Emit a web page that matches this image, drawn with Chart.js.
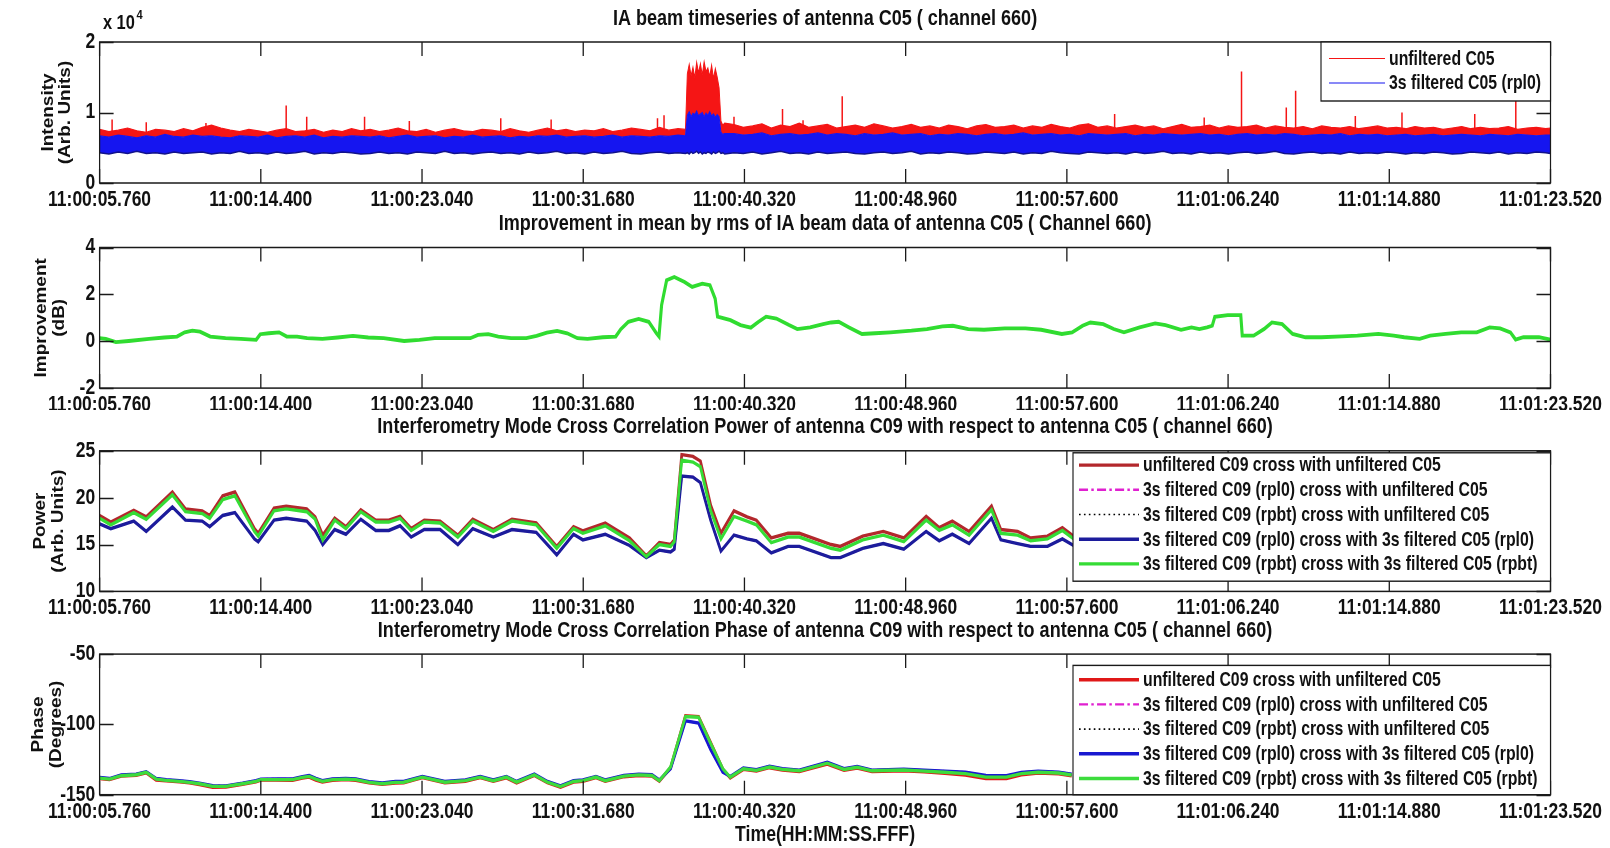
<!DOCTYPE html>
<html>
<head>
<meta charset="utf-8">
<script src="https://cdn.jsdelivr.net/npm/chart.js@4/dist/chart.umd.min.js"></script>
<style>
  html, body { margin: 0; padding: 0; background: #fff; overflow: hidden; }
  #wrap { position: relative; width: 1610px; height: 848px; }
  .panel { position: absolute; left: 0; }
  canvas { display: block; }
</style>
</head>
<body>
<div id="wrap">
  <div class="panel" style="top:0"><canvas id="beamChart" width="1963" height="206"></canvas></div>
  <div class="panel" style="top:206px"><canvas id="improveChart" width="1963" height="204"></canvas></div>
  <div class="panel" style="top:410px"><canvas id="powerChart" width="1963" height="204"></canvas></div>
  <div class="panel" style="top:614px"><canvas id="phaseChart" width="1963" height="234"></canvas></div>
</div>
<script>
// time axis (seconds after 11:00:05.760)
const timeTicks = [0, 8.64, 17.28, 25.92, 34.56, 43.2, 51.84, 60.48, 69.12, 77.76];
const timeTickLabels = ['11:00:05.760', '11:00:14.400', '11:00:23.040', '11:00:31.680', '11:00:40.320',
  '11:00:48.960', '11:00:57.600', '11:01:06.240', '11:01:14.880', '11:01:23.520'];

// panel 1: IA beam timeseries, envelope of the dense samples
const beamTimes = [
  0, 0.5, 1, 1.5, 2, 2.5, 3, 3.5, 4, 4.5,
  5, 5.5, 6, 6.5, 7, 7.5, 8, 8.5, 9, 9.5,
  10, 10.5, 11, 11.5, 12, 12.5, 13, 13.5, 14, 14.5,
  15, 15.5, 16, 16.5, 17, 17.5, 18, 18.5, 19, 19.5,
  20, 20.5, 21, 21.5, 22, 22.5, 23, 23.5, 24, 24.5,
  25, 25.5, 26, 26.5, 27, 27.5, 28, 28.5, 29, 29.5,
  30, 30.5, 31,
  31.4,
  31.5, 31.6, 31.7, 31.8, 31.9, 32.0, 32.1, 32.2, 32.3, 32.4,
  32.5, 32.6, 32.7, 32.8, 32.9, 33.0, 33.1, 33.2, 33.3, 33.4, 33.5,
  34, 34.5, 35, 35.5, 36, 36.5, 37, 37.5, 38, 38.5,
  39, 39.5, 40, 40.5, 41, 41.5, 42, 42.5, 43, 43.5,
  44, 44.5, 45, 45.5, 46, 46.5, 47, 47.5, 48, 48.5,
  49, 49.5, 50, 50.5, 51, 51.5, 52, 52.5, 53, 53.5,
  54, 54.5, 55, 55.5, 56, 56.5, 57, 57.5, 58, 58.5,
  59, 59.5, 60, 60.5, 61, 61.5, 62, 62.5, 63, 63.5,
  64, 64.5, 65, 65.5, 66, 66.5, 67, 67.5, 68, 68.5,
  69, 69.5, 70, 70.5, 71, 71.5, 72, 72.5, 73, 73.5,
  74, 74.5, 75, 75.5, 76, 76.5, 77, 77.5,
  77.76
];
const beamRedHigh = [
  7600, 7300, 7500, 7800, 7400, 7200, 7600, 7500, 7300, 7700,
  7400, 7900, 8200, 7800, 7500, 7300, 7600, 7400, 7200, 7500,
  7700, 7300, 7400, 7600, 7200, 7500, 7300, 7700, 7400, 7600,
  7300, 7500, 7800, 7400, 7300, 7600, 7200, 7500, 7700, 7400,
  7300, 7600, 7500, 7300, 7700, 7400, 7200, 7500, 7800, 7400,
  7600, 7300, 7500, 7400, 7700, 7300, 7500, 7800, 7600, 7400,
  7900, 7500, 7700,
  7600,
  15500, 16800, 15200, 16400, 14900, 17100, 15600, 16900, 15300, 17200,
  15800, 16300, 15100, 16700, 14800, 16200, 15000, 13500, 8800, 8200, 8500,
  8300, 7900, 8100, 8400, 7800, 8200, 8000, 8500, 7900, 8100,
  8300, 7800, 8000, 8200, 7900, 8400, 8100, 7800, 8000, 8300,
  7900, 8100, 7800, 8200, 8000, 7700, 8100, 8300, 7900, 8000,
  8200, 7800, 8100, 7900, 8300, 8000, 7800, 8200, 8400, 7900,
  8100, 7800, 8000, 8200, 7900, 8100, 7700, 8000, 8300, 7900,
  8000, 8200, 7800, 8100, 7900, 8000, 8200, 7800, 8100, 7900,
  7800, 8000, 7700, 8100, 7900, 7800, 8000, 7700, 7900, 8100,
  7800, 7900, 7700, 8000, 7800, 7900, 7600, 7800, 8000, 7700,
  7900, 7700, 7800, 8000, 7600, 7800, 7900, 7700,
  7800
];
const beamBlueHigh = [
  6700, 6500, 6800, 6600, 6400, 6700, 6500, 6900, 6600, 6500,
  6800, 6600, 6700, 6500, 6400, 6700, 6600, 6500, 6800, 6400,
  6600, 6700, 6500, 6800, 6400, 6600, 6500, 6700, 6600, 6500,
  6700, 6400, 6600, 6800, 6500, 6600, 6700, 6400, 6600, 6500,
  6800, 6500, 6600, 6700, 6400, 6600, 6500, 6700, 6600, 6800,
  6500, 6600, 6700, 6500, 6600, 6800, 6500, 6700, 6600, 6500,
  6700, 6600, 6800,
  6700,
  9600, 10100, 9400, 9900, 9700, 10200, 9500, 9800, 10000, 9400,
  9900, 9600, 10100, 9500, 9800, 9300, 9700, 9400, 7200, 6900, 7000,
  7000, 6800, 6900, 7100, 6700, 6900, 7000, 6800, 6900, 7100,
  6800, 7000, 6900, 6700, 7000, 6800, 6900, 7100, 6800, 6900,
  7000, 6700, 6900, 6800, 7000, 6900, 6700, 6900, 7000, 6800,
  6900, 7100, 6800, 6900, 7000, 6800, 6900, 6700, 7000, 6900,
  6800, 6900, 7000, 6700, 6900, 6800, 7000, 6900, 6800, 6900,
  7000, 6800, 6900, 6700, 6900, 7000, 6800, 6900, 6800, 7000,
  6900, 6700, 6800, 6900, 6800, 7000, 6700, 6900, 6800, 6900,
  6700, 6800, 6900, 6700, 6800, 6900, 6700, 6800, 6900, 6800,
  6700, 6900, 6800, 6700, 6900, 6800, 6700, 6800,
  6800
];
const beamBlueLow = [
  4300, 4100, 4400, 4200, 4500, 4200, 4300, 4100, 4400, 4200,
  4300, 4400, 4100, 4300, 4200, 4500, 4200, 4300, 4100, 4400,
  4200, 4300, 4500, 4100, 4300, 4200, 4400, 4300, 4100, 4200,
  4400, 4200, 4300, 4100, 4400, 4300, 4200, 4500, 4200, 4300,
  4100, 4300, 4400, 4200, 4300, 4100, 4400, 4200, 4300, 4500,
  4200, 4300, 4100, 4400, 4200, 4300, 4500, 4200, 4100, 4300,
  4400, 4200, 4300,
  4200,
  4300, 4100, 4400, 4200, 4300, 4500, 4200, 4400, 4100, 4300,
  4200, 4400, 4300, 4100, 4400, 4200, 4300, 4500, 4200, 4300, 4100,
  4300, 4200, 4400, 4100, 4300, 4500, 4200, 4300, 4100, 4400,
  4200, 4300, 4400, 4200, 4100, 4300, 4400, 4200, 4300, 4500,
  4100, 4300, 4200, 4400, 4300, 4100, 4200, 4400, 4300, 4200,
  4400, 4100, 4300, 4200, 4500, 4300, 4200, 4100, 4400, 4300,
  4200, 4300, 4100, 4400, 4200, 4300, 4500, 4200, 4300, 4100,
  4400, 4200, 4300, 4100, 4300, 4400, 4200, 4300, 4500, 4200,
  4100, 4300, 4400, 4200, 4300, 4100, 4400, 4200, 4300, 4200,
  4400, 4300, 4100, 4300, 4200, 4400, 4300, 4100, 4200, 4400,
  4300, 4200, 4400, 4100, 4300, 4200, 4400, 4300,
  4200
];
// isolated RFI spikes in the unfiltered beam
const spikeBase = 7000;
const spikeTimes = [0.67, 2.5, 5.7, 10.0, 11.1, 14.2, 16.6, 21.5, 24.2, 29.9, 30.25, 34.0,
  36.6, 37.7, 39.8, 54.4, 59.2, 61.2, 63.6, 64.1, 67.3, 69.8, 73.7, 75.9];
const spikePeaks = [9000, 8600, 8500, 11000, 9400, 9400, 8800, 9200, 9000, 9200, 9600, 9400,
  10500, 8900, 12300, 9800, 9300, 15800, 10700, 13100, 9500, 10000, 9800, 11900];
const beamYTicks = [0, 10000, 20000];
const beamYLabels = ['0', '1', '2'];

// panel 2: improvement (dB)
const impTimes = [
  0, 0.33, 0.87, 1.56, 2.65, 3.47, 4.15, 4.56, 4.97, 5.38,
  5.93, 6.75, 7.57, 8.39, 8.61, 9.07, 9.62, 10.03, 10.58, 11.12,
  11.94, 12.76, 13.58, 14.4, 15.22, 16.32, 17.14, 17.96, 19.05, 19.87,
  20.28, 20.83, 21.37, 22.05, 22.87, 23.42, 23.97, 24.52, 25.06, 25.61,
  26.15, 26.97, 27.66, 27.93, 28.34, 28.89, 29.43, 29.84, 29.98, 30.12,
  30.39, 30.8, 31.35, 31.76, 32.3, 32.71, 32.99, 33.12, 33.81, 34.35,
  34.9, 35.31, 35.72, 36.27, 36.95, 37.39, 38.08, 38.78, 39.2, 39.61,
  40.17, 40.86, 41.56, 42.39, 43.51, 44.34, 45.17, 45.73, 46.56, 47.4,
  48.51, 49.62, 50.46, 51.57, 52.12, 52.68, 53.1, 53.79, 54.35, 54.9,
  55.74, 56.57, 57.13, 57.96, 58.52, 58.94, 59.35, 59.63, 59.77, 60.46,
  61.16, 61.24, 61.85, 62.41, 62.83, 63.38, 63.94, 64.63, 65.47, 66.58,
  67.41, 68.53, 69.36, 69.92, 70.75, 71.31, 72.14, 72.97, 73.81, 74.5,
  75.06, 75.61, 75.89, 76.31, 77.14, 77.76
];
const impValues = [
  0.13, 0.10, -0.04, 0.01, 0.10, 0.16, 0.20, 0.38, 0.45, 0.41,
  0.20, 0.13, 0.10, 0.06, 0.30, 0.34, 0.38, 0.20, 0.20, 0.13,
  0.10, 0.16, 0.23, 0.16, 0.13, 0.01, 0.06, 0.13, 0.13, 0.13,
  0.27, 0.30, 0.20, 0.13, 0.13, 0.23, 0.37, 0.44, 0.34, 0.13,
  0.10, 0.17, 0.20, 0.51, 0.83, 0.95, 0.83, 0.34, 0.20, 1.54,
  2.60, 2.74, 2.53, 2.32, 2.46, 2.39, 1.82, 1.05, 0.90, 0.69,
  0.58, 0.83, 1.05, 0.97, 0.69, 0.52, 0.59, 0.73, 0.80, 0.83,
  0.59, 0.31, 0.34, 0.38, 0.45, 0.52, 0.63, 0.66, 0.52, 0.49,
  0.55, 0.55, 0.49, 0.31, 0.38, 0.66, 0.80, 0.73, 0.52, 0.38,
  0.59, 0.76, 0.69, 0.49, 0.59, 0.52, 0.59, 0.66, 1.04, 1.11,
  1.11, 0.24, 0.24, 0.52, 0.80, 0.73, 0.31, 0.17, 0.17, 0.21,
  0.24, 0.31, 0.24, 0.17, 0.10, 0.24, 0.31, 0.38, 0.38, 0.59,
  0.55, 0.38, 0.07, 0.17, 0.17, 0.07
];
const impYTicks = [-2, 0, 2, 4];

// panel 3: cross correlation power
const powerTimes = [
  0, 0.6, 1.83, 2.5, 3.9, 4.6, 5.5, 5.9, 6.6, 7.25,
  8.3, 8.5, 9.35, 10.0, 11.1, 11.55, 11.96, 12.6, 13.2, 14.0,
  14.8, 15.5, 16.1, 16.7, 17.4, 18.25, 19.2, 20.0, 21.1, 22.1,
  23.4, 24.5, 25.4, 25.9, 27.1, 28.4, 29.3, 30.0, 30.6, 30.8,
  31.2, 31.8, 32.2, 32.75, 33.3, 34.0, 34.7, 35.2, 36.0, 36.9,
  37.5, 39.2, 39.7, 40.9, 42.0, 43.1, 44.3, 45.0, 45.7, 46.6,
  47.8, 48.3, 49.2, 49.9, 50.8, 51.6, 52.2
];
const powerRed = [
  18.1, 17.4, 18.65, 17.95, 20.6, 18.8, 18.6, 18.1, 20.2, 20.6,
  16.7, 16.2, 18.9, 19.1, 18.8, 17.95, 16.0, 17.8, 16.9, 18.7,
  17.6, 17.6, 18.0, 16.7, 17.6, 17.5, 16.0, 17.7, 16.6, 17.7,
  17.3, 14.8, 16.9, 16.45, 17.3, 15.7, 13.8, 15.2, 15.0, 15.5,
  24.6, 24.4, 23.9, 19.2, 16.2, 18.6, 17.95, 17.6, 15.7, 16.2,
  16.2, 15.0, 14.8, 15.9, 16.4, 15.7, 18.0, 16.8, 17.5, 16.4,
  19.1, 16.6, 16.4, 15.7, 15.9, 16.8, 15.9
];
const powerGreen = [
  17.8, 17.1, 18.4, 17.7, 20.3, 18.5, 18.3, 17.8, 19.8, 20.2,
  16.4, 15.9, 18.6, 18.8, 18.5, 17.7, 15.5, 17.6, 16.7, 18.5,
  17.4, 17.4, 17.8, 16.5, 17.4, 17.3, 15.8, 17.5, 16.4, 17.5,
  17.1, 14.6, 16.7, 16.2, 17.0, 15.4, 13.7, 15.0, 14.8, 15.3,
  24.0, 23.8, 23.3, 18.6, 15.6, 18.0, 17.5, 17.1, 15.2, 15.8,
  15.8, 14.6, 14.4, 15.5, 16.0, 15.3, 17.6, 16.5, 17.1, 16.0,
  18.7, 16.2, 16.0, 15.4, 15.6, 16.5, 15.6
];
const powerBlue = [
  17.2, 16.7, 17.5, 16.4, 19.0, 17.6, 17.5, 16.9, 18.1, 18.4,
  15.6, 15.3, 17.6, 17.8, 17.5, 16.5, 15.0, 16.6, 16.1, 17.7,
  16.5, 16.5, 17.0, 15.8, 16.6, 16.6, 15.0, 16.7, 15.8, 16.6,
  16.3, 13.9, 16.1, 15.5, 16.1, 14.9, 13.6, 14.4, 14.2, 14.5,
  22.3, 22.2, 21.6, 17.6, 14.3, 16.0, 15.6, 15.4, 14.1, 14.8,
  14.8, 13.6, 13.6, 14.6, 15.1, 14.5, 16.4, 15.4, 16.1, 15.1,
  17.8, 15.5, 15.1, 14.8, 14.8, 15.6, 14.9
];
const powerYTicks = [10, 15, 20, 25];

// panel 4: cross correlation phase (degrees)
const phaseTimes = [
  0, 0.53, 1.16, 1.96, 2.5, 3.03, 3.57, 4.28, 4.81, 5.35,
  6.06, 6.77, 7.66, 8.38, 8.64, 9.45, 10.34, 10.87, 11.23, 11.59,
  11.94, 12.48, 13.19, 13.73, 14.44, 15.15, 15.86, 16.3, 17.3, 18.5,
  19.6, 20.4, 21.1, 21.8, 22.35, 23.3, 24.0, 24.7, 25.4, 25.9,
  26.6, 27.1, 28.1, 28.9, 29.6, 30.0, 30.6, 31.4, 32.1, 32.75,
  33.4, 33.8, 34.5, 35.2, 35.9, 36.6, 37.5, 39.0, 39.9, 40.6,
  41.4, 43.1, 44.2, 45.3, 46.4, 47.5, 48.6, 49.4, 50.3, 51.4,
  52.1
];
const phaseRed = [
  -138.6, -139.2, -136.8, -136.2, -134.4, -139.6, -140.2, -140.9, -141.6, -142.8,
  -144.8, -144.6, -142.6, -140.9, -139.6, -139.6, -139.7, -138.1, -137.5, -139.6,
  -141.0, -139.7, -139.2, -139.8, -141.6, -142.6, -141.7, -141.5, -137.9, -141.6,
  -140.5, -137.9, -140.5, -138.0, -141.6, -136.3, -141.5, -144.7, -141.0, -140.4,
  -137.9, -140.4, -137.2, -136.3, -136.7, -140.4, -130.8, -93.8, -94.4, -113.0,
  -131.8, -138.0, -132.0, -133.2, -130.8, -132.5, -133.6, -128.2, -132.6, -131.0,
  -133.6, -133.0, -133.8, -134.8, -136.0, -138.6, -138.5, -135.8, -134.6, -135.2,
  -136.6
];
const phaseBlue = [
  -137.8, -138.5, -136.0, -135.4, -133.7, -138.4, -139.4, -140.0, -140.8, -141.8,
  -143.6, -143.7, -141.8, -140.0, -138.9, -138.8, -138.8, -137.2, -136.4, -138.4,
  -140.0, -138.8, -138.4, -138.8, -140.7, -141.7, -140.6, -140.6, -137.0, -140.6,
  -139.5, -137.0, -139.5, -137.0, -140.6, -135.4, -140.6, -143.7, -140.1, -139.5,
  -137.0, -139.5, -136.3, -135.4, -135.8, -139.5, -131.5, -97.5, -99.0, -118.0,
  -134.0, -137.0, -131.0, -132.2, -129.8, -131.5, -132.5, -127.0, -131.5, -130.0,
  -132.5, -131.8, -132.6, -133.2, -134.0, -136.3, -136.4, -134.2, -133.2, -134.0,
  -135.4
];
const phaseGreen = [
  -138.2, -138.9, -136.5, -135.8, -134.1, -138.9, -139.8, -140.5, -141.2, -142.2,
  -144.1, -144.1, -142.2, -140.5, -139.3, -139.3, -139.3, -137.7, -137.0, -138.9,
  -140.5, -139.3, -138.9, -139.3, -141.2, -142.2, -141.2, -141.1, -137.5, -141.1,
  -140.0, -137.5, -140.0, -137.5, -141.1, -135.9, -141.1, -144.2, -140.6, -140.0,
  -137.5, -140.0, -136.8, -135.9, -136.3, -140.0, -130.3, -94.4, -94.9, -113.5,
  -131.5, -137.5, -131.5, -132.7, -130.3, -132.0, -133.0, -127.6, -132.0, -130.5,
  -133.0, -132.4, -133.2, -134.0, -135.0, -137.5, -137.5, -135.0, -134.0, -134.6,
  -136.0
];
const phaseYTicks = [-150, -100, -50];

const crossLabels = [
  'unfiltered C09 cross with unfiltered C05',
  '3s filtered C09 (rpl0) cross with unfiltered C05',
  '3s filtered C09 (rpbt) cross with unfiltered C05',
  '3s filtered C09 (rpl0) cross with 3s filtered C05 (rpl0)',
  '3s filtered C09 (rpbt) cross with 3s filtered C05 (rpbt)'
];

// ---------------------------------------------------------------
// the figure is laid out 1963 wide and drawn squeezed into 1610 px,
// which gives the narrow lettering of the original export
const LOGICAL_W = 1963;
const SQ = 1610 / LOGICAL_W;
const ux = v => v / SQ;            // screen x -> chart x
const FONT = "'Liberation Sans', Arial, sans-serif";
const INK = '#111';
const tickFont = {family: FONT, size: 21.3, weight: 'bold', lineHeight: 1.2};
const yTitleFont = {family: FONT, size: 19, weight: 'bold', lineHeight: 1.12};
const xTitleFont = {family: FONT, size: 21.5, weight: 'bold', lineHeight: 1.2};
const TITLE_PX = 22;
const LEGEND_PX = 19.3;
const TICK_LEN = 14;

function pairs(xs, ys) {
  return xs.map((x, i) => ({x: x, y: ys[i]}));
}

const squeeze = {
  id: 'squeeze',
  afterInit(chart) {
    const c = chart.canvas;
    c.width = 1610;
    c.style.width = '1610px';
    chart.ctx.setTransform(SQ, 0, 0, 1, 0, 0);
  },
  beforeDraw(chart) {
    chart.ctx.setTransform(SQ, 0, 0, 1, 0, 0);
  }
};

// matlab style box, inward ticks, title and boxed legend
const matlabBox = {
  id: 'matlabBox',
  afterDatasetsDraw(chart, args, opts) {
    const {ctx, chartArea: a} = chart;
    const sx = chart.scales.x, sy = chart.scales.y;
    ctx.save();
    ctx.strokeStyle = '#1a1a1a';
    ctx.setLineDash([]);
    ctx.lineWidth = ux(1.3);
    ctx.beginPath();
    sx.ticks.forEach(t => {
      const px = sx.getPixelForValue(t.value);
      ctx.moveTo(px, a.bottom); ctx.lineTo(px, a.bottom - TICK_LEN);
      ctx.moveTo(px, a.top); ctx.lineTo(px, a.top + TICK_LEN);
    });
    ctx.stroke();
    ctx.lineWidth = 1.3;
    ctx.beginPath();
    sy.ticks.forEach(t => {
      const py = Math.round(sy.getPixelForValue(t.value)) + 0.5;
      ctx.moveTo(a.left, py); ctx.lineTo(a.left + ux(TICK_LEN), py);
      ctx.moveTo(a.right, py); ctx.lineTo(a.right - ux(TICK_LEN), py);
    });
    ctx.stroke();
    ctx.lineWidth = 1.5;
    ctx.strokeRect(a.left, a.top, a.right - a.left, a.bottom - a.top);

    // axes title, centred over the plot box
    ctx.fillStyle = INK;
    ctx.textAlign = 'center';
    ctx.textBaseline = 'middle';
    ctx.font = 'bold ' + TITLE_PX + 'px ' + FONT;
    ctx.fillText(opts.title, (a.left + a.right) / 2, opts.titleY);

    const lg = opts.legend;
    if (lg) {
      const lx = ux(lg.x), lw = ux(lg.w);
      ctx.fillStyle = '#fff';
      ctx.fillRect(lx, lg.y, lw, lg.h);
      ctx.lineWidth = 1.4;
      ctx.strokeStyle = '#1a1a1a';
      ctx.strokeRect(lx, lg.y, lw, lg.h);
      ctx.font = 'bold ' + LEGEND_PX + 'px ' + FONT;
      ctx.textBaseline = 'middle';
      ctx.textAlign = 'left';
      chart.data.datasets.filter(d => d.label).forEach((d, i) => {
        const yy = lg.rowY + i * lg.rowGap;
        ctx.strokeStyle = d.borderColor;
        ctx.lineWidth = d.borderWidth;
        ctx.setLineDash(d.borderDash || []);
        ctx.beginPath();
        ctx.moveTo(ux(lg.lineX0), yy);
        ctx.lineTo(ux(lg.lineX1), yy);
        ctx.stroke();
        ctx.setLineDash([]);
        ctx.fillStyle = INK;
        ctx.fillText(d.label, ux(lg.textX), yy + 1);
      });
    }
    if (opts.multiplier) {
      ctx.fillStyle = INK;
      ctx.textBaseline = 'alphabetic';
      ctx.textAlign = 'left';
      ctx.font = 'bold 20px ' + FONT;
      ctx.fillText('x 10', a.left + 4, 29);
      const w = ctx.measureText('x 10').width;
      ctx.font = 'bold 13.5px ' + FONT;
      ctx.fillText('4', a.left + 6 + w, 19);
    }
    ctx.restore();
  }
};

function makePanel(id, p) {
  const cfg = {
    type: 'line',
    data: {datasets: p.datasets},
    options: {
      responsive: false,
      animation: false,
      devicePixelRatio: 1,
      layout: {padding: {left: 0, right: LOGICAL_W - ux(1550.5), top: p.areaTop, bottom: 0}},
      elements: {point: {radius: 0}, line: {tension: 0}},
      plugins: {
        legend: {display: false},
        tooltip: {enabled: false},
        title: {display: false},
        matlabBox: {title: p.title, titleY: p.titleY, legend: p.legend, multiplier: p.multiplier}
      },
      scales: {
        x: {
          type: 'linear', min: 0, max: 77.76,
          afterBuildTicks: s => { s.ticks = timeTicks.map(v => ({value: v})); },
          afterFit: s => { s.height = p.height - p.areaBottom; },
          grid: {display: false, drawTicks: false},
          border: {display: false},
          ticks: {
            font: tickFont, color: INK, padding: 4.3, maxRotation: 0, autoSkip: false,
            callback: (v, i) => timeTickLabels[i]
          },
          title: p.xTitle ? {display: true, text: p.xTitle, font: xTitleFont, color: INK, padding: {top: 0, bottom: 0}}
                          : {display: false}
        },
        y: {
          type: 'linear', min: p.yTicks[0], max: p.yTicks[p.yTicks.length - 1],
          afterBuildTicks: s => { s.ticks = p.yTicks.map(v => ({value: v})); },
          afterFit: s => { s.width = ux(99.6); },
          grid: {display: false, drawTicks: false},
          border: {display: false},
          ticks: {
            font: tickFont, color: INK, padding: ux(4.5),
            callback: (v, i) => p.yLabels ? p.yLabels[i] : String(v)
          },
          title: {display: true, text: p.yTitle, font: yTitleFont, color: INK,
                  padding: {top: ux(p.yTitleX) - 10.64, bottom: 0}}
        }
      }
    },
    plugins: [squeeze, matlabBox]
  };
  return new Chart(document.getElementById(id), cfg);
}

// spikes as vertical strokes broken by gaps
const spikePoints = [];
spikeTimes.forEach((t, i) => {
  spikePoints.push({x: t, y: spikeBase}, {x: t, y: spikePeaks[i]}, {x: t, y: null});
});

makePanel('beamChart', {
  title: 'IA beam timeseries of antenna C05 ( channel 660)',
  titleY: 18.5, areaTop: 42, areaBottom: 183, height: 206,
  yTicks: beamYTicks, yLabels: beamYLabels,
  yTitle: ['Intensity', '(Arb. Units)'], yTitleX: 48.3,
  multiplier: true,
  legend: {x: 1321, y: 42, w: 229.5, h: 59, rowY: 58.5, rowGap: 24.5, lineX0: 1329, lineX1: 1385, textX: 1389},
  datasets: [
    {label: 'unfiltered C05', data: pairs(beamTimes, beamRedHigh), borderColor: '#f51515',
     backgroundColor: '#f51515', borderWidth: 1.2, fill: '+1', order: 3},
    {label: '3s filtered C05 (rpl0)', data: pairs(beamTimes, beamBlueHigh), borderColor: '#1515f0',
     backgroundColor: '#1515f0', borderWidth: 1.2, fill: '+1', order: 2},
    {data: pairs(beamTimes, beamBlueLow), borderColor: '#12128a', borderWidth: 1.5, fill: false, order: 1},
    {data: spikePoints, borderColor: '#f51515', borderWidth: ux(1.5), fill: false, spanGaps: false, order: 4}
  ]
});

makePanel('improveChart', {
  title: 'Improvement in mean by rms of IA beam data of antenna C05 ( Channel 660)',
  titleY: 17.8, areaTop: 41.5, areaBottom: 182.1, height: 204,
  yTicks: impYTicks,
  yTitle: ['Improvement', '(dB)'], yTitleX: 42,
  datasets: [
    {data: pairs(impTimes, impValues), borderColor: '#30dc30', borderWidth: 3.8, fill: false}
  ]
});

makePanel('powerChart', {
  title: 'Interferometry Mode Cross Correlation Power of antenna C09 with respect to antenna C05 ( channel 660)',
  titleY: 17.1, areaTop: 40.8, areaBottom: 181.4, height: 204,
  yTicks: powerYTicks,
  yTitle: ['Power', '(Arb. Units)'], yTitleX: 41,
  legend: {x: 1073, y: 42.8, w: 477.5, h: 128.4, rowY: 55.1, rowGap: 24.7, lineX0: 1079, lineX1: 1139, textX: 1143},
  datasets: [
    {label: crossLabels[0], data: pairs(powerTimes, powerRed), borderColor: '#b3282c', borderWidth: 3.4, fill: false, order: 5},
    {label: crossLabels[1], data: pairs(powerTimes, powerBlue), borderColor: '#e020d0', borderWidth: 2.4,
     borderDash: [11, 4, 3, 4], fill: false, order: 4},
    {label: crossLabels[2], data: pairs(powerTimes, powerGreen), borderColor: '#000', borderWidth: 1.6,
     borderDash: [2, 4], fill: false, order: 3},
    {label: crossLabels[3], data: pairs(powerTimes, powerBlue), borderColor: '#1c1c9c', borderWidth: 3.4, fill: false, order: 2},
    {label: crossLabels[4], data: pairs(powerTimes, powerGreen), borderColor: '#35dc35', borderWidth: 3.4, fill: false, order: 1}
  ]
});

makePanel('phaseChart', {
  title: 'Interferometry Mode Cross Correlation Phase of antenna C09 with respect to antenna C05 ( channel 660)',
  titleY: 16.5, areaTop: 40.1, areaBottom: 180.7, height: 234,
  yTicks: phaseYTicks,
  yTitle: ['Phase', '(Degrees)'], yTitleX: 39,
  xTitle: 'Time(HH:MM:SS.FFF)',
  legend: {x: 1073, y: 51.4, w: 477.5, h: 129.3, rowY: 65.7, rowGap: 24.7, lineX0: 1079, lineX1: 1139, textX: 1143},
  datasets: [
    {label: crossLabels[0], data: pairs(phaseTimes, phaseRed), borderColor: '#e01818', borderWidth: 3.4, fill: false, order: 5},
    {label: crossLabels[1], data: pairs(phaseTimes, phaseBlue), borderColor: '#e020d0', borderWidth: 2.4,
     borderDash: [11, 4, 3, 4], fill: false, order: 4},
    {label: crossLabels[2], data: pairs(phaseTimes, phaseGreen), borderColor: '#000', borderWidth: 1.6,
     borderDash: [2, 4], fill: false, order: 3},
    {label: crossLabels[3], data: pairs(phaseTimes, phaseBlue), borderColor: '#1818d0', borderWidth: 3.4, fill: false, order: 2},
    {label: crossLabels[4], data: pairs(phaseTimes, phaseGreen), borderColor: '#3ddc3d', borderWidth: 3.4, fill: false, order: 1}
  ]
});
</script>
</body>
</html>
